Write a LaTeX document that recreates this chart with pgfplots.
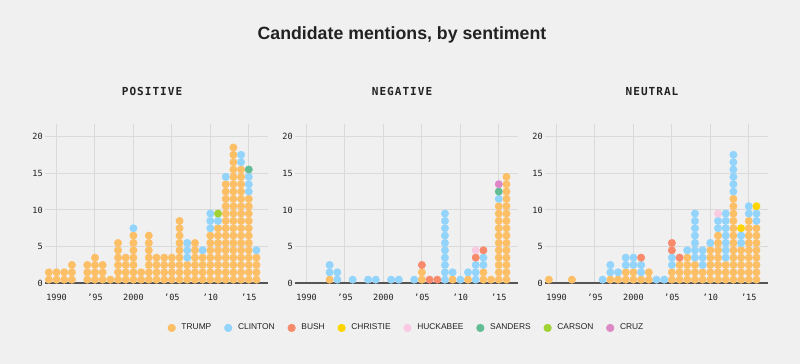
\documentclass[border=0pt]{standalone}
\usepackage{pgfplots}
\pgfplotsset{compat=1.18}
\usepackage{fontspec}
\setmainfont{Liberation Sans}
\newfontfamily\monofont{DejaVu Sans Mono}
\newfontfamily\panelmono[LetterSpace=9]{DejaVu Sans Mono}
\newcommand\tickfont{\monofont\fontsize{6.4}{7}\selectfont}
\newcommand\panelfont{\panelmono\bfseries\fontsize{8.3}{10}\selectfont}

\definecolor{bg}{HTML}{F0F0F0}
\definecolor{ctrump}{HTML}{FDBF66}
\definecolor{cclinton}{HTML}{92D4FB}
\definecolor{cbush}{HTML}{F88A6C}
\definecolor{cchristie}{HTML}{FDD600}
\definecolor{chuck}{HTML}{F9CAE2}
\definecolor{csanders}{HTML}{62BD97}
\definecolor{ccarson}{HTML}{9FD232}
\definecolor{ccruz}{HTML}{DD87C6}
\definecolor{gridc}{HTML}{DADADA}
\definecolor{axisc}{HTML}{555555}
\definecolor{txt}{HTML}{222222}

\pgfplotsset{
  panel/.style={
    scale only axis, width=167.25pt, height=119.5pt, anchor=south west,
    xmin=1988.5, xmax=2017.5, ymin=0, ymax=21.7,
    axis lines*=left,
    x axis line style={draw=axisc, line width=1.3pt},
    y axis line style={draw=none},
    xtick={1990,1995,2000,2005,2010,2015},
    xticklabels={1990,’95,2000,’05,’10,’15},
    ytick={0,5,10,15,20},
    yticklabels={0,5,10,15,20},
    grid=major, major grid style={draw=gridc, line width=0.75pt},
    major tick length=0pt, tick style={draw=none},
    tick label style={font=\tickfont, text=txt},
    yticklabel style={inner sep=0pt, anchor=east, xshift=-1.5pt},
    xticklabel style={inner sep=0pt, anchor=north, yshift=-8pt},
    title style={font=\panelfont, text=txt, at={(0.48,1)}, anchor=base, yshift=15pt},
  },
  dot/.style={only marks, mark=*, mark size=2.75pt, color=#1, mark options={draw=none, fill=#1}, forget plot},
}

\begin{document}
\begin{tikzpicture}
\fill[bg] (0,0) rectangle (600pt,273pt);
\useasboundingbox (0,0) rectangle (600pt,273pt);
\node[font=\bfseries\fontsize{13.3}{15}\selectfont, text=txt] at (301.5pt,247pt) {Candidate mentions, by sentiment};

% ---------------- POSITIVE ----------------
\begin{axis}[panel, at={(33.75pt,60.5pt)}, title={POSITIVE}]
\addplot[dot=ctrump] coordinates {
(1989,0.5)(1989,1.5)
(1990,0.5)(1990,1.5)
(1991,0.5)(1991,1.5)
(1992,0.5)(1992,1.5)(1992,2.5)
(1994,0.5)(1994,1.5)(1994,2.5)
(1995,0.5)(1995,1.5)(1995,2.5)(1995,3.5)
(1996,0.5)(1996,1.5)(1996,2.5)
(1997,0.5)
(1998,0.5)(1998,1.5)(1998,2.5)(1998,3.5)(1998,4.5)(1998,5.5)
(1999,0.5)(1999,1.5)(1999,2.5)(1999,3.5)
(2000,0.5)(2000,1.5)(2000,2.5)(2000,3.5)(2000,4.5)(2000,5.5)(2000,6.5)
(2001,0.5)(2001,1.5)
(2002,0.5)(2002,1.5)(2002,2.5)(2002,3.5)(2002,4.5)(2002,5.5)(2002,6.5)
(2003,0.5)(2003,1.5)(2003,2.5)(2003,3.5)
(2004,0.5)(2004,1.5)(2004,2.5)(2004,3.5)
(2005,0.5)(2005,1.5)(2005,2.5)(2005,3.5)
(2006,0.5)(2006,1.5)(2006,2.5)(2006,3.5)(2006,4.5)(2006,5.5)(2006,6.5)(2006,7.5)(2006,8.5)
(2007,0.5)(2007,1.5)(2007,2.5)
(2008,0.5)(2008,1.5)(2008,2.5)(2008,3.5)(2008,4.5)(2008,5.5)
(2009,0.5)(2009,1.5)(2009,2.5)(2009,3.5)
(2010,0.5)(2010,1.5)(2010,2.5)(2010,3.5)(2010,4.5)(2010,5.5)(2010,6.5)
(2011,0.5)(2011,1.5)(2011,2.5)(2011,3.5)(2011,4.5)(2011,5.5)(2011,6.5)(2011,7.5)
(2012,0.5)(2012,1.5)(2012,2.5)(2012,3.5)(2012,4.5)(2012,5.5)(2012,6.5)(2012,7.5)(2012,8.5)(2012,9.5)(2012,10.5)(2012,11.5)(2012,12.5)(2012,13.5)
(2013,0.5)(2013,1.5)(2013,2.5)(2013,3.5)(2013,4.5)(2013,5.5)(2013,6.5)(2013,7.5)(2013,8.5)(2013,9.5)(2013,10.5)(2013,11.5)(2013,12.5)(2013,13.5)(2013,14.5)(2013,15.5)(2013,16.5)(2013,17.5)(2013,18.5)
(2014,0.5)(2014,1.5)(2014,2.5)(2014,3.5)(2014,4.5)(2014,5.5)(2014,6.5)(2014,7.5)(2014,8.5)(2014,9.5)(2014,10.5)(2014,11.5)(2014,12.5)(2014,13.5)(2014,14.5)(2014,15.5)
(2015,0.5)(2015,1.5)(2015,2.5)(2015,3.5)(2015,4.5)(2015,5.5)(2015,6.5)(2015,7.5)(2015,8.5)(2015,9.5)(2015,10.5)(2015,11.5)
(2016,0.5)(2016,1.5)(2016,2.5)(2016,3.5)
};
\addplot[dot=cclinton] coordinates {
(2000,7.5)(2007,3.5)(2007,4.5)(2007,5.5)(2009,4.5)(2010,7.5)(2010,8.5)(2010,9.5)(2011,8.5)(2012,14.5)(2014,16.5)(2014,17.5)(2015,12.5)(2015,13.5)(2015,14.5)(2016,4.5)
};
\addplot[dot=ccarson] coordinates {(2011,9.5)};
\addplot[dot=csanders] coordinates {(2015,15.5)};
\end{axis}

% ---------------- NEGATIVE ----------------
\begin{axis}[panel, at={(221.25pt,60.5pt)}, title={NEGATIVE},
  legend columns=8,
  legend style={draw=none, fill=none, at={(0.4955,-0.28)}, anchor=center,
    font=\fontsize{6.3}{7}\selectfont, text=txt,
    nodes={inner sep=0pt},
    /tikz/every odd column/.append style={column sep=4.3pt},
    /tikz/every even column/.append style={column sep=9.6pt}},
  legend cell align=left,
  legend image code/.code={\fill[#1] (0pt,0pt) circle (2.85pt);},
]
\addplot[dot=ctrump] coordinates {
(1993,0.5)(2005,0.5)(2005,1.5)(2009,0.5)(2011,0.5)(2013,0.5)(2013,1.5)(2014,0.5)
(2015,0.5)(2015,1.5)(2015,2.5)(2015,3.5)(2015,4.5)(2015,5.5)(2015,6.5)(2015,7.5)(2015,8.5)(2015,9.5)(2015,10.5)
(2016,0.5)(2016,1.5)(2016,2.5)(2016,3.5)(2016,4.5)(2016,5.5)(2016,6.5)(2016,7.5)(2016,8.5)(2016,9.5)(2016,10.5)(2016,11.5)(2016,12.5)(2016,13.5)(2016,14.5)
};
\addplot[dot=cclinton] coordinates {
(1993,1.5)(1993,2.5)(1994,0.5)(1994,1.5)(1996,0.5)(1998,0.5)(1999,0.5)(2001,0.5)(2002,0.5)(2004,0.5)
(2008,0.5)(2008,1.5)(2008,2.5)(2008,3.5)(2008,4.5)(2008,5.5)(2008,6.5)(2008,7.5)(2008,8.5)(2008,9.5)
(2009,1.5)(2010,0.5)(2011,1.5)(2012,0.5)(2012,1.5)(2012,2.5)(2013,2.5)(2013,3.5)(2015,11.5)
};
\addplot[dot=cbush] coordinates {(2005,2.5)(2006,0.5)(2007,0.5)(2012,3.5)(2013,4.5)};
\addplot[dot=chuck] coordinates {(2012,4.5)};
\addplot[dot=csanders] coordinates {(2015,12.5)};
\addplot[dot=ccruz] coordinates {(2015,13.5)};
\addlegendimage{ctrump}\addlegendentry{TRUMP}
\addlegendimage{cclinton}\addlegendentry{CLINTON}
\addlegendimage{cbush}\addlegendentry{BUSH}
\addlegendimage{cchristie}\addlegendentry{CHRISTIE}
\addlegendimage{chuck}\addlegendentry{HUCKABEE}
\addlegendimage{csanders}\addlegendentry{SANDERS}
\addlegendimage{ccarson}\addlegendentry{CARSON}
\addlegendimage{ccruz}\addlegendentry{CRUZ}
\end{axis}

% ---------------- NEUTRAL ----------------
\begin{axis}[panel, at={(408.75pt,60.5pt)}, title={NEUTRAL}]
\addplot[dot=ctrump] coordinates {
(1989,0.5)(1992,0.5)(1997,0.5)(1998,0.5)(1999,0.5)(1999,1.5)(2000,0.5)(2000,1.5)(2001,0.5)(2002,0.5)(2002,1.5)
(2005,0.5)(2005,1.5)(2006,0.5)(2006,1.5)(2006,2.5)(2007,0.5)(2007,1.5)(2007,2.5)(2007,3.5)(2008,0.5)(2008,1.5)(2008,2.5)(2009,0.5)(2009,1.5)
(2010,0.5)(2010,1.5)(2010,2.5)(2010,3.5)(2010,4.5)
(2011,0.5)(2011,1.5)(2011,2.5)(2011,3.5)(2011,4.5)(2011,5.5)(2011,6.5)
(2012,0.5)(2012,1.5)(2012,2.5)
(2013,0.5)(2013,1.5)(2013,2.5)(2013,3.5)(2013,4.5)(2013,5.5)(2013,6.5)(2013,7.5)(2013,8.5)(2013,9.5)(2013,10.5)(2013,11.5)
(2014,0.5)(2014,1.5)(2014,2.5)(2014,3.5)(2014,4.5)
(2015,0.5)(2015,1.5)(2015,2.5)(2015,3.5)(2015,4.5)(2015,5.5)(2015,6.5)(2015,7.5)(2015,8.5)
(2016,0.5)(2016,1.5)(2016,2.5)(2016,3.5)(2016,4.5)(2016,5.5)(2016,6.5)(2016,7.5)
};
\addplot[dot=cclinton] coordinates {
(1996,0.5)(1997,1.5)(1997,2.5)(1998,1.5)(1999,2.5)(1999,3.5)(2000,2.5)(2000,3.5)(2001,1.5)(2001,2.5)(2003,0.5)(2004,0.5)(2005,2.5)(2005,3.5)(2007,4.5)
(2008,3.5)(2008,4.5)(2008,5.5)(2008,6.5)(2008,7.5)(2008,8.5)(2008,9.5)
(2009,2.5)(2009,3.5)(2009,4.5)(2010,5.5)(2011,7.5)(2011,8.5)
(2012,3.5)(2012,4.5)(2012,5.5)(2012,6.5)(2012,7.5)(2012,8.5)(2012,9.5)
(2013,12.5)(2013,13.5)(2013,14.5)(2013,15.5)(2013,16.5)(2013,17.5)
(2014,5.5)(2014,6.5)(2015,9.5)(2015,10.5)(2016,8.5)(2016,9.5)
};
\addplot[dot=cbush] coordinates {(2001,3.5)(2005,4.5)(2005,5.5)(2006,3.5)};
\addplot[dot=chuck] coordinates {(2011,9.5)};
\addplot[dot=cchristie] coordinates {(2014,7.5)(2016,10.5)};
\end{axis}
\end{tikzpicture}
\end{document}
